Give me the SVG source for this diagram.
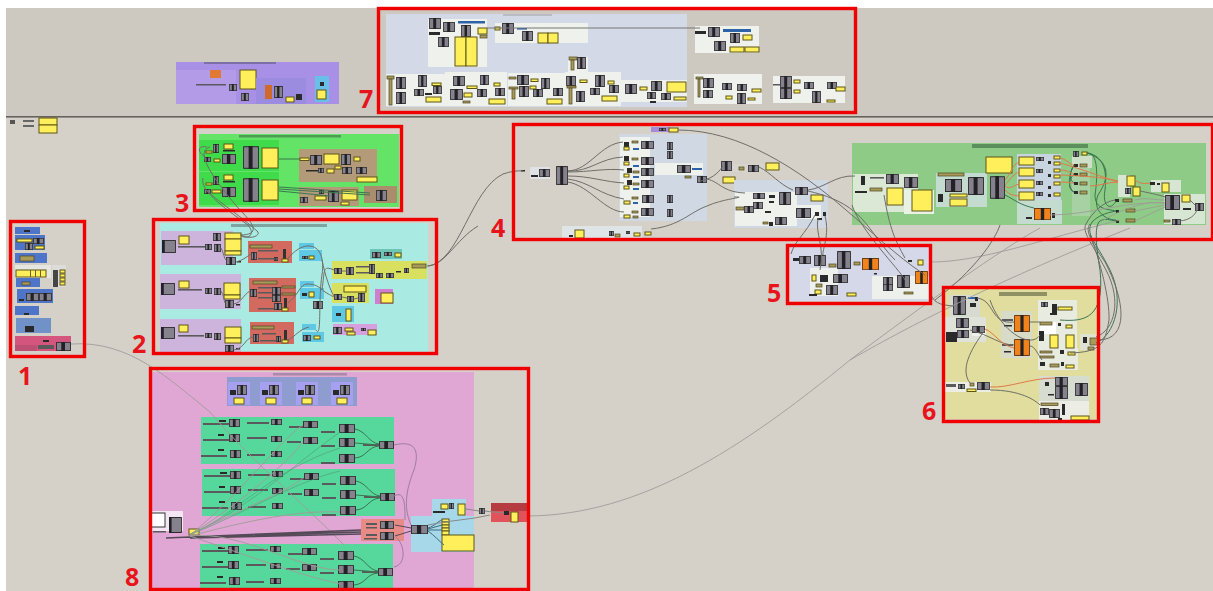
<svg xmlns="http://www.w3.org/2000/svg" width="1213" height="591" viewBox="0 0 1213 591">
<style>
.t{font-family:"Open Sans","Liberation Sans",sans-serif;font-weight:700;font-size:25px;fill:#e8141c}
.f{fill:none;stroke:#f00000;stroke-width:3.4}
.y{fill:#ffef5a;stroke:#5c5518;stroke-width:1}
.k{fill:#2c2c2c}
.l{fill:#5a5a5c}
.ol{fill:#a89a58;stroke:#4c4420;stroke-width:.7}
.w{fill:#eef1ec}
.b{fill:#2f62a8}
.cn path{fill:none;stroke:#6f6e68;stroke-width:1}
.cn .g{stroke:#3c7550;stroke-width:1}
.cn .gf{stroke:#4f9a70;stroke-width:.8;opacity:.75}
.cn .o{stroke:#e2784a;stroke-width:1}
.cn .a{stroke:#a09c98;stroke-width:.9}
.cn .h{stroke:#544a58;stroke-width:1.6}
.s{filter:url(#bl)}
</style>
<defs>
<filter id="bl" x="-2%" y="-2%" width="104%" height="104%"><feGaussianBlur stdDeviation="0.45"/></filter>
<symbol id="c" viewBox="0 0 20 16" preserveAspectRatio="none"><rect x=".5" y=".5" width="19" height="15" fill="#85828e" stroke="#2a2a2a" stroke-width="1" vector-effect="non-scaling-stroke"/><rect x="7" y="0" width="5" height="16" fill="#232326"/></symbol>
<symbol id="d" viewBox="0 0 20 16" preserveAspectRatio="none"><rect x=".5" y=".5" width="19" height="15" fill="#85828e" stroke="#2a2a2a" stroke-width="1" vector-effect="non-scaling-stroke"/><rect x="0" y="0" width="4" height="16" fill="#232326"/></symbol>
<symbol id="o" viewBox="0 0 20 16" preserveAspectRatio="none"><rect x=".5" y=".5" width="19" height="15" fill="#f0831e" stroke="#6a3a10" stroke-width="1" vector-effect="non-scaling-stroke"/><rect x="8" y="0" width="4" height="16" fill="#232326"/></symbol>
<g id="row8">
<rect x="0" y="0" width="193" height="47" fill="#56d79b"/>
<rect class="l" x="2" y="6" width="26" height="2"/><rect class="k" x="18" y="3" width="7" height="2"/><use href="#c" x="28" y="2" width="11" height="8"/><rect class="l" x="46" y="5" width="22" height="2"/><use href="#c" x="70" y="2" width="11" height="6"/><rect class="l" x="88" y="9" width="14" height="2"/><use href="#c" x="102" y="4" width="15" height="7"/><rect class="l" x="120" y="14" width="14" height="2"/><use href="#c" x="138" y="7" width="16" height="9"/>
<rect class="l" x="2" y="22" width="26" height="2"/><rect class="k" x="17" y="17" width="6" height="2"/><use href="#c" x="28" y="17" width="11" height="8"/><rect class="l" x="46" y="20" width="20" height="2"/><use href="#c" x="70" y="19" width="11" height="6"/><rect class="l" x="86" y="24" width="14" height="2"/><use href="#c" x="102" y="20" width="15" height="7"/><rect class="l" x="120" y="28" width="14" height="2"/><use href="#c" x="138" y="21" width="16" height="9"/>
<rect class="l" x="0" y="38" width="26" height="2"/><rect class="k" x="17" y="32" width="6" height="2"/><use href="#c" x="29" y="33" width="11" height="8"/><rect class="l" x="46" y="37" width="18" height="2"/><use href="#c" x="70" y="34" width="11" height="6"/><rect class="l" x="120" y="45" width="14" height="2"/><use href="#c" x="138" y="37" width="16" height="9"/>
<use href="#c" x="178" y="24" width="15" height="8"/><rect class="l" x="162" y="27" width="16" height="2"/>
<path d="M154,12C165,14 168,26 178,27M154,26L178,28M154,41C166,40 166,30 178,29" fill="none" stroke="#3c7550"/>
</g>
<g id="purp"><rect x="0" y="0" width="22" height="23" fill="#a6a0f0"/><rect class="k" x="2" y="8" width="6" height="5"/><use href="#c" x="9" y="3" width="10" height="10"/><rect class="y" x="6" y="16" width="10" height="6"/></g>
</defs>
<rect width="1213" height="591" fill="#d5d1c9"/>
<rect x="0" y="0" width="1213" height="8" fill="#ffffff"/>
<rect x="0" y="0" width="6" height="591" fill="#ffffff"/>
<rect x="6" y="8" width="1207" height="108" fill="#cdc9c1"/>
<rect x="6" y="116" width="1207" height="1.6" fill="#66635e"/>

<g id="panel-top" class="s">
<rect x="10" y="120" width="5" height="4" fill="#555"/><rect x="23" y="120" width="11" height="2" fill="#666"/><rect x="23" y="125" width="11" height="2" fill="#666"/><rect class="y" x="39" y="118" width="18" height="7"/><rect class="y" x="39" y="125" width="18" height="8"/>
</g>

<g id="node-purple" class="s">
<rect x="176" y="62" width="163" height="42" fill="#a890e6"/>
<rect x="204" y="62" width="72" height="2" fill="#7d6fa8"/>
<rect x="176" y="70" width="60" height="34" fill="#b39be8"/>
<rect x="210" y="70" width="11" height="8" fill="#e07a30"/><rect class="y" x="240" y="70" width="16" height="19"/><rect class="l" x="196" y="84" width="30" height="1.5"/><use href="#c" x="229" y="84" width="8" height="7"/><use href="#c" x="241" y="93" width="8" height="8"/>
<rect x="256" y="78" width="50" height="26" fill="#9c8ce0"/><rect x="265" y="85" width="7" height="14" fill="#d06a2a"/><use href="#c" x="274" y="86" width="9" height="12"/><rect class="y" x="286" y="97" width="8" height="5"/><rect class="k" x="296" y="94" width="6" height="6"/>
<rect x="315" y="76" width="14" height="26" fill="#68c0e8"/><rect class="k" x="320" y="82" width="4" height="4"/><rect class="y" x="317" y="90" width="9" height="9"/>
</g>

<g id="node-7" class="s">
<rect x="386" y="14" width="301" height="93" fill="#d3d9e6"/><rect x="503" y="14" width="49" height="2" fill="#b9bcc4"/>
<rect class="w" x="428" y="19" width="59" height="48"/>
<use href="#c" x="429" y="18" width="12" height="11"/><use href="#c" x="443" y="22" width="12" height="10"/><rect class="b" x="458" y="21" width="27" height="2.5"/><use href="#c" x="461" y="25" width="10" height="12"/><rect class="y" x="478" y="28" width="9" height="6"/><rect class="ol" x="480" y="35" width="7" height="3"/><rect class="k" x="429" y="32" width="11" height="3"/><use href="#c" x="438" y="37" width="11" height="10"/><rect class="y" x="455" y="37" width="11" height="29"/><rect class="y" x="466" y="37" width="11" height="29"/>
<rect class="w" x="495" y="23" width="93" height="20"/><rect class="y" x="495" y="27" width="5" height="3"/><use href="#c" x="502" y="23" width="12" height="11"/><rect class="b" x="517" y="28" width="10" height="1.6"/><use href="#c" x="522" y="31" width="11" height="10"/><rect class="y" x="538" y="33" width="10" height="10"/><rect class="y" x="548" y="33" width="10" height="10"/>
<rect class="w" x="695" y="26" width="64" height="27"/><rect class="k" x="695" y="31" width="11" height="3"/><use href="#c" x="708" y="27" width="12" height="10"/><rect class="b" x="723" y="29" width="28" height="3"/><use href="#c" x="730" y="33" width="10" height="10"/><rect class="y" x="743" y="35" width="9" height="5"/><use href="#c" x="714" y="41" width="12" height="10"/><rect class="y" x="730" y="47" width="14" height="5"/><rect class="y" x="745" y="47" width="14" height="5"/>
<rect class="w" x="386" y="74" width="59" height="32"/><rect class="w" x="445" y="72" width="62" height="34"/><rect class="w" x="508" y="73" width="57" height="33"/><rect class="w" x="565" y="72" width="56" height="34"/><rect class="w" x="621" y="80" width="66" height="22"/><rect class="w" x="568" y="57" width="20" height="15"/>
<rect class="ol" x="387" y="76" width="7" height="3"/><rect class="ol" x="389" y="79" width="3" height="26"/><use href="#c" x="396" y="77" width="10" height="12"/><use href="#c" x="396" y="92" width="10" height="12"/><use href="#c" x="418" y="75" width="9" height="12"/><use href="#c" x="414" y="89" width="10" height="7"/><use href="#c" x="433" y="86" width="9" height="8"/><rect class="y" x="432" y="83" width="9" height="2.5"/><rect class="k" x="425" y="93" width="7" height="2"/><rect class="y" x="426" y="97" width="15" height="5"/>
<use href="#c" x="453" y="76" width="12" height="10"/><use href="#c" x="450" y="89" width="13" height="11"/><use href="#c" x="480" y="75" width="9" height="10"/><rect class="y" x="467" y="86" width="10" height="2.5"/><rect class="y" x="464" y="93" width="8" height="4"/><use href="#c" x="477" y="89" width="10" height="8"/><use href="#c" x="495" y="88" width="10" height="8"/><rect class="y" x="494" y="83" width="6" height="3"/><rect class="y" x="489" y="99" width="16" height="5"/><rect class="ol" x="463" y="101" width="7" height="2"/>
<rect class="ol" x="509" y="77" width="7" height="2"/><use href="#c" x="517" y="75" width="12" height="10"/><use href="#c" x="519" y="86" width="10" height="11"/><rect class="ol" x="509" y="87" width="9" height="2"/><rect class="ol" x="512" y="89" width="3" height="10"/><rect class="y" x="531" y="79" width="7" height="2.5"/><use href="#c" x="541" y="78" width="9" height="11"/><rect class="y" x="530" y="86" width="6" height="3"/><use href="#c" x="533" y="89" width="10" height="8"/><use href="#c" x="553" y="88" width="10" height="8"/><rect class="y" x="547" y="99" width="15" height="5"/>
<rect class="ol" x="569" y="57" width="8" height="3"/><rect class="ol" x="571" y="60" width="3" height="10"/><use href="#c" x="577" y="57" width="9" height="12"/><use href="#c" x="566" y="76" width="10" height="10"/><rect class="ol" x="567" y="86" width="9" height="2"/><rect class="ol" x="569" y="88" width="3" height="16"/><use href="#c" x="576" y="91" width="9" height="11"/><rect class="y" x="580" y="80" width="7" height="2.5"/><use href="#c" x="595" y="75" width="10" height="12"/><use href="#c" x="590" y="88" width="10" height="7"/><use href="#c" x="609" y="85" width="10" height="8"/><rect class="y" x="608" y="81" width="6" height="3"/><rect class="y" x="602" y="96" width="15" height="5"/>
<use href="#c" x="625" y="84" width="12" height="10"/><rect class="y" x="640" y="87" width="7" height="3"/><use href="#c" x="651" y="81" width="11" height="10"/><rect class="y" x="667" y="82" width="19" height="10"/><use href="#c" x="647" y="92" width="9" height="7"/><use href="#c" x="661" y="93" width="10" height="7"/><rect class="y" x="674" y="97" width="12" height="3"/><rect class="k" x="650" y="101" width="6" height="2"/>
<rect class="w" x="694" y="74" width="68" height="30"/><rect class="ol" x="696" y="77" width="7" height="2"/><rect class="ol" x="698" y="79" width="2" height="18"/><use href="#c" x="703" y="78" width="11" height="10"/><use href="#c" x="703" y="90" width="10" height="8"/><use href="#c" x="722" y="83" width="10" height="7"/><use href="#c" x="737" y="84" width="10" height="7"/><rect class="y" x="752" y="89" width="9" height="3"/><rect class="y" x="726" y="96" width="6" height="3"/><use href="#c" x="737" y="93" width="9" height="11"/><rect class="y" x="748" y="98" width="7" height="2"/>
<rect class="w" x="773" y="76" width="72" height="27"/><use href="#c" x="780" y="76" width="12" height="12"/><use href="#c" x="780" y="88" width="12" height="11"/><rect class="l" x="773" y="84" width="7" height="1.5"/><rect class="y" x="794" y="80" width="6" height="3"/><use href="#c" x="804" y="82" width="10" height="7"/><use href="#c" x="827" y="82" width="10" height="7"/><rect class="y" x="836" y="87" width="9" height="4"/><rect class="y" x="794" y="90" width="6" height="3"/><use href="#c" x="812" y="91" width="9" height="12"/><rect class="y" x="827" y="100" width="8" height="2"/>
</g>

<g id="node-1" class="s">
<rect x="15" y="227" width="25" height="7" fill="#4f74c8"/><rect class="k" x="24" y="230" width="6" height="2"/>
<rect x="15" y="235" width="30" height="15" fill="#4f74c8"/><rect class="y" x="17" y="239" width="15" height="3"/><use href="#c" x="33" y="238" width="11" height="6"/><use href="#c" x="25" y="243" width="8" height="7"/><rect class="y" x="35" y="246" width="9" height="3"/>
<rect x="15" y="253" width="32" height="10" fill="#4f74c8"/><rect class="ol" x="20" y="256" width="14" height="5"/>
<rect x="15" y="265" width="36" height="13" fill="#e6e6e0"/><rect class="y" x="16" y="270" width="30" height="7"/><rect x="30" y="270" width="1" height="7" fill="#6b6420"/><rect x="35" y="270" width="1" height="7" fill="#6b6420"/><rect x="40" y="270" width="1" height="7" fill="#6b6420"/>
<rect x="52" y="265" width="14" height="22" fill="#dcdcd8"/><rect x="53" y="270" width="5" height="17" fill="#444"/><rect class="y" x="60" y="270" width="5" height="3"/><rect class="y" x="60" y="274" width="5" height="3"/><rect class="y" x="60" y="278" width="5" height="3"/><rect class="y" x="60" y="282" width="5" height="3"/>
<rect x="16" y="278" width="24" height="9" fill="#4f74c8"/><rect class="ol" x="22" y="282" width="8" height="3"/>
<rect x="17" y="289" width="36" height="14" fill="#4f74c8"/><rect class="k" x="19" y="299" width="5" height="2"/><use href="#c" x="26" y="293" width="13" height="8"/><use href="#c" x="39" y="293" width="13" height="8"/>
<rect x="15" y="306" width="24" height="9" fill="#4f74c8"/><rect class="k" x="24" y="313" width="5" height="2"/>
<rect x="16" y="318" width="35" height="15" fill="#6f92c8"/><rect class="k" x="25" y="326" width="9" height="6"/>
<rect x="15" y="336" width="56" height="15" fill="#d4567e"/><rect x="15" y="345" width="22" height="6" fill="#bd5072"/><rect class="l" x="38" y="345" width="16" height="4"/><rect class="k" x="43" y="340" width="6" height="2"/><use href="#c" x="56" y="342" width="15" height="9"/>
</g>

<g id="node-3" class="s">
<rect x="199" y="134" width="200" height="73" fill="#63e466"/><rect x="239" y="135" width="102" height="2.5" fill="#4f9a55"/>
<rect x="199" y="140" width="80" height="31" fill="#3fdb4c"/><rect x="199" y="172" width="80" height="33" fill="#3fdb4c"/>
<use href="#c" x="243" y="146" width="16" height="23"/><rect class="y" x="262" y="148" width="16" height="20"/><use href="#c" x="222" y="154" width="14" height="10"/><use href="#c" x="204" y="157" width="7" height="5"/><rect class="y" x="214" y="159" width="6" height="3"/><use href="#c" x="213" y="144" width="6" height="9"/><rect class="y" x="224" y="144" width="9" height="5"/><rect class="k" x="223" y="150" width="12" height="1.5"/><rect class="y" x="206" y="151" width="6" height="2"/>
<use href="#c" x="243" y="178" width="16" height="24"/><rect class="y" x="262" y="180" width="16" height="20"/><use href="#c" x="222" y="187" width="14" height="10"/><use href="#c" x="204" y="189" width="7" height="5"/><rect class="y" x="212" y="190" width="9" height="3"/><use href="#c" x="213" y="176" width="6" height="9"/><rect class="y" x="224" y="175" width="9" height="5"/><rect class="k" x="223" y="181" width="12" height="1.5"/><rect class="y" x="206" y="183" width="6" height="2"/>
<rect x="299" y="149" width="78" height="33" fill="#b39a78"/><rect x="299" y="187" width="60" height="19" fill="#b39a78"/><rect x="364" y="186" width="33" height="17" fill="#ab8c6c"/>
<rect class="y" x="300" y="158" width="9" height="2.5"/><use href="#c" x="310" y="155" width="12" height="10"/><rect class="y" x="324" y="154" width="15" height="10"/><use href="#c" x="341" y="154" width="10" height="11"/><rect class="y" x="354" y="157" width="6" height="4"/><rect class="k" x="306" y="170" width="14" height="1.5"/><use href="#c" x="318" y="168" width="6" height="5"/><rect class="y" x="327" y="169" width="7" height="4"/><rect class="y" x="335" y="166" width="6" height="3"/><use href="#c" x="342" y="167" width="10" height="7"/><use href="#c" x="356" y="167" width="11" height="7"/><rect class="y" x="357" y="177" width="20" height="5"/><use href="#c" x="328" y="191" width="11" height="11"/><rect class="y" x="342" y="190" width="15" height="10"/><rect class="y" x="315" y="196" width="11" height="4"/><use href="#c" x="300" y="197" width="8" height="6"/><use href="#c" x="319" y="190" width="5" height="4"/><rect class="y" x="341" y="202" width="8" height="3"/><use href="#c" x="376" y="190" width="11" height="11"/>
</g>

<g id="node-2" class="s">
<rect x="160" y="223" width="268" height="129" fill="#a9ebe3"/><rect x="231" y="224" width="96" height="3" fill="#7fa5a0"/>
<rect x="161" y="231" width="72" height="34" fill="#cdb4dc"/><use href="#d" x="162" y="240" width="14" height="13"/><rect class="y" x="179" y="236" width="10" height="8"/><rect class="l" x="178" y="246" width="28" height="1.6"/><use href="#c" x="205" y="244" width="7" height="6"/><use href="#c" x="214" y="244" width="7" height="8"/><use href="#c" x="213" y="233" width="8" height="8"/><rect class="y" x="225" y="233" width="16" height="6"/><rect class="y" x="225" y="239" width="16" height="12"/><rect class="y" x="225" y="251" width="16" height="4"/><use href="#c" x="226" y="257" width="10" height="8"/><rect class="k" x="237" y="261" width="4" height="1.5"/>
<rect x="248" y="241" width="44" height="22" fill="#d26a5f"/><rect class="ol" x="250" y="245" width="22" height="3"/><use href="#c" x="251" y="252" width="6" height="8"/><rect class="l" x="258" y="250" width="20" height="1.5"/><rect class="l" x="258" y="258" width="16" height="1.5"/><use href="#c" x="274" y="257" width="4" height="4"/><rect x="283" y="249" width="3" height="10" fill="#333"/><rect class="y" x="282" y="259" width="6" height="3"/>
<rect x="299" y="243" width="15" height="6" fill="#5fc8e4"/><rect x="299" y="250" width="23" height="11" fill="#5fc8e4"/><use href="#c" x="302" y="256" width="6" height="3"/><rect class="y" x="309" y="256" width="5" height="3"/>
<rect x="160" y="274" width="81" height="35" fill="#cdb4dc"/><use href="#d" x="161" y="283" width="14" height="12"/><rect class="y" x="179" y="281" width="10" height="7"/><rect class="l" x="178" y="289" width="24" height="1.6"/><use href="#c" x="205" y="288" width="7" height="6"/><use href="#c" x="214" y="288" width="7" height="7"/><rect class="y" x="224" y="283" width="16" height="12"/><rect class="y" x="224" y="295" width="16" height="4"/><use href="#c" x="225" y="300" width="9" height="8"/><rect class="k" x="236" y="304" width="4" height="1.5"/>
<rect x="249" y="278" width="47" height="34" fill="#d26a5f"/><rect class="ol" x="253" y="281" width="24" height="3"/><use href="#c" x="250" y="289" width="7" height="8"/><rect class="l" x="258" y="287" width="14" height="1.5"/><rect class="l" x="258" y="292" width="14" height="1.5"/><rect class="l" x="258" y="297" width="14" height="1.5"/><rect class="ol" x="282" y="286" width="13" height="2"/><rect class="ol" x="282" y="293" width="13" height="2"/><use href="#c" x="272" y="287" width="9" height="8"/><use href="#c" x="272" y="295" width="9" height="7"/><use href="#c" x="274" y="303" width="8" height="7"/><rect class="l" x="258" y="308" width="16" height="1.5"/><rect x="284" y="298" width="3" height="10" fill="#333"/><rect class="y" x="282" y="308" width="6" height="3"/>
<rect x="300" y="281" width="14" height="6" fill="#5fc8e4"/><rect x="300" y="288" width="24" height="11" fill="#5fc8e4"/><rect class="k" x="302" y="293" width="5" height="3"/><rect class="y" x="309" y="292" width="5" height="5"/><use href="#c" x="313" y="301" width="10" height="8"/>
<rect x="160" y="319" width="81" height="33" fill="#cdb4dc"/><use href="#d" x="161" y="327" width="14" height="12"/><rect class="y" x="179" y="325" width="9" height="7"/><rect class="l" x="178" y="335" width="26" height="1.6"/><use href="#c" x="205" y="333" width="7" height="5"/><use href="#c" x="214" y="333" width="7" height="7"/><rect class="y" x="225" y="327" width="16" height="11"/><rect class="y" x="225" y="338" width="16" height="5"/><use href="#c" x="225" y="345" width="9" height="7"/><rect class="k" x="236" y="348" width="4" height="1.5"/>
<rect x="250" y="322" width="44" height="22" fill="#d26a5f"/><rect class="ol" x="252" y="326" width="22" height="3"/><use href="#c" x="253" y="334" width="6" height="8"/><rect class="l" x="262" y="333" width="14" height="1.5"/><rect class="l" x="260" y="340" width="16" height="1.5"/><use href="#c" x="276" y="336" width="5" height="6"/><rect x="284" y="330" width="3" height="10" fill="#333"/><rect class="y" x="282" y="340" width="6" height="3"/>
<rect x="302" y="324" width="14" height="6" fill="#5fc8e4"/><rect x="302" y="332" width="22" height="10" fill="#5fc8e4"/><use href="#c" x="303" y="335" width="8" height="6"/><rect class="y" x="314" y="336" width="6" height="3"/>
<rect x="332" y="261" width="95" height="18" fill="#d9e060"/><rect x="370" y="249" width="32" height="10" fill="#6dc6b5"/><use href="#c" x="372" y="252" width="9" height="6"/><use href="#c" x="384" y="252" width="8" height="4"/><rect class="y" x="395" y="253" width="6" height="4"/><use href="#c" x="334" y="268" width="8" height="6"/><use href="#c" x="346" y="267" width="8" height="8"/><rect class="l" x="356" y="266" width="14" height="1.5"/><rect class="l" x="356" y="272" width="14" height="1.5"/><use href="#c" x="369" y="264" width="6" height="10"/><use href="#c" x="376" y="273" width="7" height="5"/><use href="#c" x="386" y="273" width="8" height="5"/><use href="#c" x="404" y="268" width="5" height="5"/><rect class="ol" x="412" y="264" width="14" height="4"/><rect class="k" x="396" y="271" width="5" height="1.5"/>
<rect x="332" y="283" width="37" height="20" fill="#d9e060"/><rect class="y" x="344" y="286" width="22" height="6"/><use href="#c" x="334" y="294" width="8" height="6"/><use href="#c" x="347" y="296" width="7" height="6"/><use href="#c" x="358" y="293" width="7" height="9"/>
<rect x="375" y="289" width="18" height="15" fill="#cf7fd0"/><rect class="y" x="381" y="293" width="12" height="10"/>
<rect x="332" y="306" width="22" height="16" fill="#5fc8e4"/><rect class="k" x="336" y="313" width="5" height="3"/><rect class="y" x="346" y="309" width="5" height="12"/>
<rect x="333" y="324" width="44" height="11" fill="#d59fe0"/><use href="#c" x="333" y="327" width="9" height="7"/><rect class="y" x="345" y="328" width="8" height="3"/><rect class="y" x="347" y="332" width="8" height="3"/><use href="#c" x="361" y="328" width="5" height="3"/><rect class="y" x="368" y="330" width="8" height="5"/>
</g>

<g id="node-8" class="s">
<rect x="150" y="372" width="324" height="218" fill="#e0a6d4"/><rect x="273" y="373" width="74" height="2.5" fill="#a98aa8"/>
<rect x="227" y="377" width="130" height="29" fill="#8f9ccf"/>
<use href="#purp" x="228" y="382"/><use href="#purp" x="260" y="382"/><use href="#purp" x="296" y="382"/><use href="#purp" x="331" y="382"/>
<use href="#row8" x="201" y="417"/><use href="#row8" x="202" y="469"/><use href="#row8" x="200" y="544"/>
<rect x="150" y="511" width="33" height="20" fill="#f5e6f3"/><rect x="150" y="513" width="15" height="14" fill="#fff" stroke="#333"/><use href="#d" x="169" y="517" width="13" height="16"/><rect class="l" x="153" y="531" width="13" height="1.5"/><rect class="y" x="189" y="529" width="10" height="6"/>
<rect x="361" y="519" width="43" height="22" fill="#e88a86"/><use href="#c" x="380" y="521" width="14" height="8"/><use href="#c" x="380" y="532" width="14" height="8"/><rect class="l" x="366" y="523" width="11" height="2"/><rect class="l" x="366" y="527" width="11" height="1.5"/><rect class="l" x="366" y="534" width="11" height="2"/><rect class="l" x="364" y="538" width="13" height="1.5"/>
<rect x="411" y="516" width="63" height="36" fill="#a6d8ea"/><use href="#c" x="411" y="525" width="17" height="9"/><rect class="y" x="442" y="519" width="7" height="3"/><rect class="y" x="442" y="522" width="7" height="3"/><rect class="y" x="442" y="525" width="7" height="3"/><rect class="y" x="442" y="528" width="7" height="3"/><rect class="y" x="442" y="531" width="7" height="4"/><rect class="y" x="442" y="535" width="32" height="16"/>
<rect x="432" y="499" width="34" height="17" fill="#a6d8ea"/><rect class="y" x="441" y="504" width="7" height="5"/><use href="#c" x="449" y="503" width="5" height="6"/><rect class="k" x="433" y="511" width="12" height="2"/><rect class="y" x="458" y="504" width="7" height="11"/>
<use href="#c" x="479" y="508" width="6" height="6"/>
<rect x="491" y="503" width="37" height="19" fill="#e0525a"/><rect x="491" y="503" width="37" height="8" fill="#b53c42"/><rect class="k" x="504" y="511" width="5" height="4"/><rect class="y" x="511" y="512" width="7" height="10"/>
</g>

<g id="node-4" class="s">
<rect x="530" y="167" width="20" height="12" fill="#dfe3e6"/><use href="#c" x="539" y="169" width="11" height="8"/><rect class="k" x="531" y="175" width="7" height="2"/><rect class="k" x="521" y="170" width="4" height="1.5"/>
<use href="#c" x="556" y="166" width="12" height="19"/>
<rect x="562" y="226" width="80" height="12" fill="#dfe4e6"/><rect class="y" x="575" y="230" width="9" height="8"/><rect class="k" x="569" y="235" width="4" height="2"/><use href="#c" x="609" y="231" width="5" height="5"/><rect class="ol" x="615" y="234" width="5" height="3"/><use href="#c" x="626" y="231" width="4" height="3"/><rect class="y" x="634" y="233" width="6" height="3"/><rect class="y" x="645" y="232" width="6" height="3"/>
<rect x="651" y="127" width="19" height="5" fill="#a88bd8"/><use href="#c" x="659" y="128" width="7" height="3"/><rect class="y" x="669" y="128" width="9" height="4"/>
<rect x="619" y="134" width="88" height="87" fill="#d0d8e4"/>
<rect class="w" x="620" y="137" width="30" height="80"/><rect class="w" x="655" y="163" width="48" height="12"/>
<use href="#c" x="641" y="141" width="13" height="8"/><use href="#c" x="641" y="157" width="13" height="8"/><use href="#c" x="641" y="168" width="13" height="8"/><use href="#c" x="641" y="180" width="13" height="8"/><use href="#c" x="642" y="195" width="12" height="8"/><use href="#c" x="641" y="208" width="13" height="8"/>
<use href="#c" x="667" y="142" width="6" height="8"/><use href="#c" x="667" y="151" width="6" height="8"/><use href="#c" x="667" y="195" width="6" height="8"/><use href="#c" x="667" y="209" width="6" height="8"/>
<g><rect class="k" x="624" y="142" width="5" height="5"/><rect class="y" x="624" y="147" width="5" height="3"/><rect class="ol" x="632" y="141" width="6" height="2"/><rect class="b" x="633" y="148" width="6" height="2"/><rect class="k" x="624" y="156" width="5" height="5"/><rect class="y" x="624" y="162" width="5" height="3"/><rect class="ol" x="632" y="158" width="6" height="2"/><rect class="b" x="633" y="165" width="6" height="2"/><rect class="k" x="627" y="168" width="5" height="5"/><rect class="y" x="624" y="174" width="5" height="3"/><rect class="ol" x="633" y="171" width="6" height="2"/><rect class="b" x="633" y="176" width="6" height="2"/><rect class="k" x="627" y="180" width="5" height="5"/><rect class="y" x="624" y="186" width="5" height="3"/><rect class="ol" x="633" y="183" width="6" height="2"/><rect class="b" x="633" y="188" width="6" height="2"/><rect class="y" x="624" y="201" width="6" height="3"/><rect class="ol" x="632" y="197" width="6" height="2"/><rect class="b" x="633" y="202" width="5" height="2"/><rect class="y" x="624" y="215" width="6" height="3"/><rect class="ol" x="632" y="211" width="6" height="2"/><rect class="ol" x="633" y="216" width="5" height="2"/></g>
<use href="#c" x="677" y="165" width="14" height="8"/><rect class="b" x="692" y="168" width="10" height="2"/><rect class="ol" x="685" y="176" width="6" height="2"/><use href="#c" x="697" y="176" width="10" height="7"/>
<rect x="719" y="164" width="60" height="8" fill="#d6d4cc"/><use href="#c" x="721" y="161" width="11" height="10"/><use href="#c" x="748" y="165" width="11" height="7"/><rect class="y" x="766" y="163" width="13" height="7"/><rect class="ol" x="739" y="167" width="5" height="3"/><rect class="y" x="723" y="177" width="12" height="6"/>
<rect x="734" y="180" width="94" height="48" fill="#d0d8e4"/><rect class="w" x="735" y="192" width="62" height="34"/>
<use href="#c" x="753" y="193" width="12" height="6"/><use href="#c" x="779" y="192" width="12" height="13"/><use href="#c" x="753" y="202" width="10" height="7"/><use href="#c" x="744" y="206" width="10" height="7"/><rect class="k" x="769" y="195" width="6" height="3"/><rect class="k" x="769" y="201" width="5" height="2"/><rect class="ol" x="736" y="207" width="8" height="3"/><rect class="k" x="765" y="211" width="6" height="2"/><use href="#c" x="795" y="187" width="13" height="8"/><rect class="y" x="811" y="195" width="12" height="6"/><rect class="w" x="796" y="205" width="25" height="14"/><use href="#c" x="796" y="208" width="15" height="10"/><rect class="k" x="815" y="212" width="4" height="4"/><rect class="k" x="823" y="212" width="3" height="4"/><rect class="k" x="817" y="218" width="5" height="2"/><rect class="w" x="763" y="217" width="30" height="9"/><use href="#c" x="775" y="217" width="12" height="8"/><rect class="k" x="769" y="222" width="4" height="4"/><rect class="ol" x="763" y="222" width="5" height="2"/>
<rect x="852" y="143" width="354" height="82" fill="#8dcb86"/><rect x="972" y="144" width="116" height="4" fill="#5c8f5c"/>
<rect x="853" y="174" width="65" height="38" fill="#dbe8d6"/><use href="#c" x="886" y="174" width="13" height="10"/><use href="#c" x="904" y="177" width="14" height="11"/><rect class="y" x="887" y="188" width="16" height="17"/><rect class="k" x="861" y="176" width="4" height="9"/><rect class="l" x="870" y="177" width="14" height="1.6"/><rect class="ol" x="870" y="188" width="12" height="3"/><rect class="k" x="855" y="191" width="12" height="2"/>
<rect x="904" y="190" width="30" height="24" fill="#eaf2e6"/><rect class="y" x="912" y="190" width="20" height="21"/>
<rect x="936" y="173" width="51" height="34" fill="#c4dcd0"/><rect class="ol" x="938" y="173" width="26" height="3"/><use href="#c" x="945" y="179" width="17" height="13"/><rect class="k" x="938" y="194" width="5" height="8"/><rect class="y" x="950" y="194" width="17" height="3"/><rect class="y" x="950" y="199" width="17" height="7"/><use href="#c" x="968" y="177" width="16" height="18"/>
<use href="#c" x="990" y="176" width="15" height="23"/><rect class="y" x="986" y="157" width="26" height="16"/>
<rect x="1017" y="154" width="44" height="47" fill="#c8d4e0"/><rect x="1017" y="200" width="45" height="24" fill="#c4dcd0"/>
<rect class="y" x="1019" y="157" width="15" height="8"/><rect class="y" x="1019" y="168" width="15" height="8"/><rect class="y" x="1019" y="180" width="15" height="8"/><rect class="y" x="1019" y="192" width="15" height="8"/>
<rect class="y" x="1054" y="156" width="6" height="3"/><rect class="y" x="1054" y="162" width="6" height="3"/><rect class="y" x="1054" y="169" width="6" height="3"/><rect class="y" x="1054" y="175" width="6" height="3"/><rect class="y" x="1054" y="182" width="6" height="3"/><rect class="y" x="1054" y="193" width="6" height="3"/>
<use href="#c" x="1036" y="157" width="8" height="4"/><use href="#c" x="1036" y="169" width="7" height="4"/><use href="#c" x="1036" y="181" width="7" height="4"/><use href="#c" x="1036" y="192" width="7" height="4"/><rect class="k" x="1048" y="161" width="3" height="3"/><rect class="k" x="1048" y="174" width="3" height="3"/><rect class="k" x="1048" y="186" width="3" height="3"/><rect class="k" x="1048" y="194" width="3" height="3"/>
<use href="#o" x="1034" y="208" width="17" height="12"/><rect class="k" x="1026" y="217" width="6" height="2"/><rect class="k" x="1052" y="213" width="3" height="5"/>
<rect x="1072" y="156" width="20" height="12" fill="#cfe0c8"/><rect x="1072" y="168" width="18" height="48" fill="#c2d8c0" opacity=".5"/><use href="#c" x="1073" y="151" width="6" height="6"/><rect class="y" x="1082" y="152" width="5" height="3"/>
<rect class="k" x="1074" y="164" width="4" height="3"/><rect class="ol" x="1080" y="164" width="7" height="3"/><rect class="k" x="1074" y="173" width="4" height="3"/><rect class="ol" x="1080" y="173" width="7" height="3"/><rect class="k" x="1074" y="182" width="4" height="3"/><rect class="ol" x="1080" y="182" width="7" height="3"/><rect class="k" x="1074" y="191" width="4" height="3"/><rect class="ol" x="1080" y="191" width="7" height="3"/>
<rect x="1118" y="175" width="12" height="22" fill="#d7e6d2"/><rect class="y" x="1127" y="176" width="8" height="10"/><use href="#c" x="1125" y="188" width="6" height="6"/><rect class="y" x="1133" y="187" width="7" height="9"/>
<rect x="1151" y="180" width="30" height="12" fill="#d7e6d2"/><rect class="k" x="1150" y="182" width="5" height="3"/><rect class="k" x="1157" y="183" width="3" height="2"/><rect class="y" x="1162" y="183" width="7" height="9"/>
<rect class="k" x="1115" y="199" width="4" height="3"/><rect class="ol" x="1123" y="199" width="9" height="3"/><rect class="k" x="1116" y="210" width="3" height="3"/><rect class="ol" x="1126" y="209" width="9" height="3"/><rect class="k" x="1116" y="220" width="3" height="3"/><rect class="ol" x="1126" y="219" width="9" height="3"/>
<rect x="1164" y="194" width="41" height="30" fill="#d7e6d2"/><use href="#c" x="1165" y="195" width="15" height="15"/><rect class="y" x="1182" y="195" width="8" height="7"/><use href="#c" x="1195" y="203" width="9" height="8"/><rect class="k" x="1183" y="208" width="8" height="2"/><use href="#c" x="1172" y="219" width="9" height="6"/><rect class="ol" x="1164" y="220" width="6" height="2"/>
</g>

<g id="node-5" class="s">
<rect x="790" y="247" width="139" height="54" fill="#d4d8e8"/><rect x="872" y="276" width="57" height="23" fill="#eef0ec"/><rect x="810" y="268" width="28" height="28" fill="#eef0ec"/>
<rect class="k" x="793" y="258" width="6" height="3"/><use href="#c" x="799" y="256" width="12" height="8"/><use href="#c" x="814" y="255" width="12" height="11"/><use href="#c" x="837" y="251" width="14" height="18"/>
<rect class="y" x="812" y="275" width="4" height="6"/><rect class="k" x="820" y="275" width="8" height="7"/><use href="#c" x="833" y="274" width="15" height="9"/><use href="#c" x="826" y="285" width="12" height="10"/><rect class="y" x="815" y="290" width="6" height="4"/><rect class="ol" x="816" y="284" width="6" height="3"/><rect class="k" x="809" y="294" width="8" height="2"/><rect class="y" x="847" y="293" width="9" height="3"/><rect class="ol" x="829" y="264" width="7" height="3"/><rect class="ol" x="854" y="262" width="6" height="3"/>
<use href="#o" x="862" y="258" width="17" height="12"/><rect class="k" x="874" y="273" width="3" height="1.5"/><rect class="k" x="908" y="260" width="4" height="2"/><rect class="y" x="918" y="260" width="5" height="5"/><use href="#c" x="883" y="277" width="10" height="10"/><use href="#c" x="883" y="284" width="10" height="7"/><use href="#c" x="897" y="275" width="13" height="13"/><use href="#o" x="915" y="271" width="13" height="13"/><rect class="ol" x="904" y="292" width="9" height="2"/>
</g>

<g id="node-6" class="s">
<rect x="945" y="289" width="152" height="130" fill="#e0dd9e"/><rect x="999" y="292" width="48" height="4" fill="#8f9064"/>
<rect x="949" y="295" width="31" height="25" fill="#d7dad0"/><use href="#c" x="953" y="296" width="13" height="19"/><rect class="b" x="968" y="297" width="9" height="2"/><rect class="k" x="970" y="303" width="6" height="4"/><rect class="k" x="975" y="297" width="3" height="4"/>
<rect x="945" y="317" width="41" height="25" fill="#dfe2d8"/><use href="#c" x="956" y="318" width="13" height="10"/><use href="#c" x="957" y="330" width="12" height="8"/><rect class="k" x="946" y="332" width="11" height="10"/><rect class="w" x="972" y="326" width="14" height="10"/><use href="#c" x="972" y="326" width="13" height="7"/>
<rect x="1001" y="311" width="31" height="27" fill="#d7dbc8"/><rect x="1001" y="338" width="31" height="20" fill="#d7dbc8"/><use href="#o" x="1014" y="315" width="16" height="17"/><use href="#o" x="1014" y="339" width="16" height="17"/><rect class="l" x="1002" y="319" width="11" height="2"/><rect class="k" x="1004" y="325" width="8" height="1.5"/><rect class="l" x="1002" y="344" width="11" height="2"/><rect class="k" x="1004" y="351" width="7" height="1.5"/>
<rect x="1038" y="300" width="39" height="48" fill="#e8ebe0"/><rect x="1038" y="348" width="40" height="22" fill="#e8ebe0"/><rect x="1040" y="322" width="16" height="12" fill="#fff"/><use href="#c" x="1041" y="302" width="7" height="5"/><rect class="k" x="1052" y="304" width="5" height="11"/><rect class="y" x="1058" y="307" width="14" height="3"/><rect class="k" x="1050" y="313" width="6" height="2"/><rect class="ol" x="1040" y="322" width="12" height="3"/><rect class="k" x="1039" y="331" width="5" height="10"/><rect class="k" x="1058" y="323" width="3" height="3"/><rect class="y" x="1066" y="325" width="6" height="3"/><rect class="y" x="1050" y="335" width="8" height="13"/><rect class="y" x="1066" y="335" width="8" height="13"/><rect class="ol" x="1040" y="351" width="12" height="2"/><rect class="ol" x="1040" y="356" width="14" height="2"/><rect class="k" x="1060" y="350" width="4" height="4"/><rect class="y" x="1068" y="352" width="7" height="3"/><rect class="k" x="1040" y="362" width="5" height="4"/><rect class="ol" x="1050" y="364" width="9" height="3"/><rect class="k" x="1061" y="362" width="3" height="4"/><rect class="y" x="1066" y="365" width="8" height="3"/>
<rect x="1080" y="334" width="18" height="16" fill="#dfe2d0"/><rect class="k" x="1083" y="337" width="4" height="6"/><rect class="ol" x="1090" y="338" width="8" height="7"/><rect class="ol" x="1088" y="347" width="6" height="3"/>
<rect x="945" y="382" width="46" height="10" fill="#eceee6"/><rect class="l" x="946" y="384" width="10" height="3"/><use href="#c" x="958" y="384" width="7" height="5"/><rect class="ol" x="970" y="383" width="4" height="3"/><rect class="y" x="967" y="389" width="9" height="2.5"/><use href="#c" x="977" y="382" width="13" height="8"/>
<rect x="1039" y="376" width="50" height="25" fill="#d7dcd0"/><rect x="1039" y="401" width="50" height="19" fill="#eceee6"/><use href="#c" x="1055" y="377" width="13" height="9"/><use href="#c" x="1055" y="386" width="13" height="13"/><use href="#c" x="1075" y="383" width="13" height="13"/><rect class="k" x="1045" y="382" width="4" height="4"/><rect class="k" x="1048" y="394" width="6" height="1.5"/><rect class="ol" x="1041" y="403" width="17" height="2.5"/><rect class="k" x="1062" y="404" width="3" height="11"/><use href="#c" x="1040" y="408" width="9" height="7"/><use href="#c" x="1049" y="409" width="11" height="9"/><rect class="y" x="1071" y="416" width="18" height="4"/><rect class="k" x="1058" y="418" width="4" height="2"/>
</g>

<g id="connectors" class="cn">
<path class="a" d="M71,344C130,340 170,380 210,412C250,460 300,500 344,545"/>
<path class="a" d="M528,516C640,515 740,450 850,360C930,300 1000,250 1040,228"/>
<path class="a" d="M850,360C920,320 1000,280 1130,228"/>
<path class="a" d="M931,262C980,262 1040,240 1120,220"/>
<path d="M428,266C460,262 470,190 503,174Q515,170 523,171"/>
<path d="M568,171C590,170 600,144 623,142M568,171C590,172 600,158 623,157M568,172C590,172 605,168 624,170M568,176C590,176 605,182 624,183M568,179C590,182 600,195 624,199M568,182C590,186 605,212 624,212"/>
<path d="M651,229C680,226 690,212 707,206C725,198 750,197 734,197"/>
<path d="M678,130C740,130 800,170 846,210C870,230 895,255 925,275"/>
<path d="M701,181C715,178 720,170 723,166"/>
<path d="M707,179C720,182 722,192 745,193"/>
<path d="M759,167C770,172 780,185 793,190"/>
<path d="M808,190C825,188 835,175 855,176"/>
<path d="M808,191C825,195 840,200 855,212C870,225 880,245 895,260"/>
<path d="M815,215C805,235 795,240 791,254"/>
<path d="M825,216C830,235 822,250 823,255"/>
<path d="M818,218C815,235 825,245 820,270"/>
<path d="M852,205C860,230 900,270 905,280M884,195C890,230 895,240 905,258"/>
<path d="M1000,225C995,240 975,270 935,300"/>
<path d="M990,300C1000,330 1030,350 1040,335"/>
<path d="M931,295C935,305 945,305 953,306"/>
<path d="M977,298C995,300 990,325 1014,322M970,330C990,335 1000,345 1014,345M985,330C970,350 960,370 970,383M990,390C1020,390 1035,400 1040,405"/>
<path class="o" d="M985,329C995,333 1000,345 1014,348M990,387C1010,388 1030,378 1055,378"/>
<path d="M1030,322L1040,322M1030,346C1035,346 1038,355 1042,360"/>
<path class="g" d="M1096,343C1115,335 1125,300 1110,270C1095,240 1085,235 1092,222C1098,216 1105,213 1116,211"/>
<path d="M1096,337C1115,330 1122,300 1106,270C1090,240 1082,232 1086,224C1092,212 1105,201 1115,200"/>
<path d="M1098,340C1130,340 1125,300 1105,262C1090,240 1085,230 1090,224"/>
<path class="g" d="M1060,320C1085,322 1105,318 1100,270C1095,240 1095,225 1100,221C1105,218 1110,220 1116,221"/>
<path d="M1070,353C1100,352 1105,345 1109,320C1110,300 1100,260 1090,235"/>
<path class="g" d="M1087,153C1100,155 1108,165 1105,190C1102,205 1110,212 1116,201"/>
<path class="g" d="M1087,153C1098,152 1098,175 1095,195C1095,210 1108,209 1116,211"/>
<path class="g" d="M1087,153C1102,158 1115,170 1098,195C1092,210 1105,220 1116,220"/>
<path class="g" d="M1074,165C1068,175 1070,180 1074,183M1074,165C1066,180 1070,190 1074,192M1074,174C1068,180 1068,190 1074,192"/>
<path class="o" d="M1060,158C1068,160 1070,165 1074,165M1060,170C1068,170 1070,173 1074,174M1060,182C1068,182 1070,183 1074,183M1060,175C1090,176 1105,178 1118,181M1060,163C1085,170 1105,178 1118,182M1090,186C1100,186 1108,182 1118,182M1135,180C1140,184 1145,184 1150,183"/>
<path class="o" d="M1005,180C1010,175 1012,165 1019,162M1005,185C1010,180 1012,175 1019,172M1005,186C1010,190 1012,186 1019,184M1005,190C1010,195 1012,195 1019,196"/>
<path class="g" d="M1005,195C1015,200 1020,205 1034,208"/>
<path class="a" d="M1050,215C1090,215 1130,200 1165,203M1100,222C1120,210 1145,200 1165,203M1135,200C1145,197 1155,200 1165,200M1135,211L1165,205M1135,221L1165,207"/>
<path d="M1140,191C1145,192 1160,195 1165,197M1190,200L1195,205M1180,221C1190,220 1195,215 1197,210"/>
<path d="M487,28L700,28" style="stroke:#777"/>
<path d="M205,157C195,150 200,145 207,147M210,147C197,150 205,170 240,210C255,225 260,235 240,235M207,190C215,200 240,215 258,232C260,236 250,240 241,235M203,178C200,190 220,205 248,225C255,233 250,240 241,236"/>
<path class="g" d="M279,159L300,159M279,187L370,193M279,189L370,195M279,191L330,196"/>
<path d="M236,262C243,260 245,258 251,254M234,304C242,302 243,295 250,291M234,350C245,348 245,338 253,337"/>
<path d="M221,248C224,254 224,258 226,260M221,291C224,296 224,300 225,303"/>
<path d="M288,258C296,250 300,247 307,246C318,245 325,255 322,275C318,300 322,340 316,330"/>
<path d="M288,303C298,296 300,284 307,284C315,284 318,286 325,292C330,295 332,296 334,297M288,340C296,336 298,330 309,327"/>
<path d="M322,290C325,270 322,265 334,270M322,260C325,275 330,290 334,296M342,297L347,298M354,299L358,298M342,271L346,271"/>
<path d="M427,266C445,266 455,240 478,226"/>
<path class="h" d="M166,538L361,530M190,537L361,532M190,538L361,534"/>
<path class="h" d="M395,525L411,528M395,536L411,531" style="stroke-width:1"/>
<path class="gf" d="M190,534C230,520 270,470 340,448M190,534C240,515 300,460 340,432M190,535C250,510 300,480 340,471"/>
<path class="a" d="M190,535C240,495 280,440 303,425M190,535C245,500 290,460 303,442M190,535C250,505 290,490 303,478M190,536C250,520 300,510 340,512M190,536C240,530 300,570 340,570M190,536C260,560 300,575 340,584"/>
<path d="M394,445C415,440 420,450 414,470C408,485 402,505 411,525M394,496C405,490 405,505 405,520M394,567C406,565 406,545 395,536" style="stroke:#9c7f9f"/>
<path d="M428,528C435,526 438,521 442,520M428,529L442,525M428,530L442,530M428,531C435,536 438,540 444,545" style="stroke:#3f6b7c"/>
<path d="M466,509L479,511M485,511C490,512 498,512 504,513M428,525C450,520 470,520 490,515" style="stroke:#888"/>
</g>

<g id="frames">
<rect class="f" x="10.500" y="221.500" width="74" height="135"/>
<rect class="f" x="153.500" y="219.500" width="283" height="134"/>
<rect class="f" x="194.500" y="126.500" width="207" height="84"/>
<rect class="f" x="513.500" y="124.500" width="699" height="115"/>
<rect class="f" x="787.500" y="245.500" width="143" height="58"/>
<rect class="f" x="943.500" y="287.500" width="155" height="134"/>
<rect class="f" x="378.500" y="8.500" width="477" height="104"/>
<rect class="f" x="150.500" y="368.500" width="378" height="221"/>
</g>
<text class="t" x="18" y="385">1</text>
<text class="t" x="132" y="353">2</text>
<text class="t" x="175" y="212">3</text>
<text class="t" x="491" y="237">4</text>
<text class="t" x="767" y="302">5</text>
<text class="t" x="922" y="420">6</text>
<text class="t" x="359" y="108">7</text>
<text class="t" x="125" y="586">8</text>
</svg>
